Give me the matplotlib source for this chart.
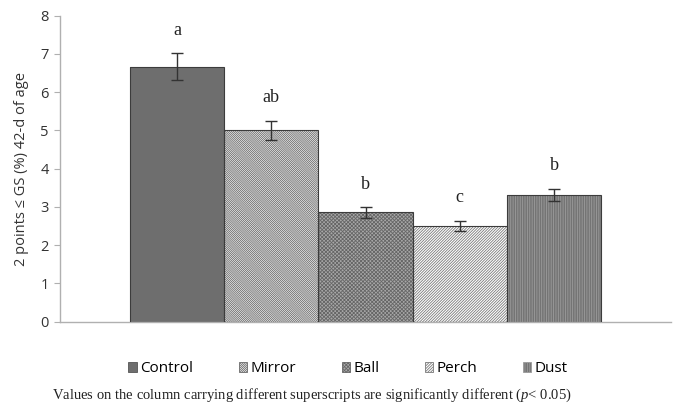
import matplotlib
matplotlib.use("Agg")
import matplotlib.pyplot as plt
from matplotlib.patches import Patch

categories = ["Control", "Mirror", "Ball", "Perch", "Dust"]
values = [6.67, 5.01, 2.86, 2.50, 3.32]
errors = [0.35, 0.25, 0.14, 0.14, 0.16]
letters = ["a", "ab", "b", "c", "b"]
yticks = [0, 1, 2, 3, 4, 5, 6, 7, 8]

plt.rcParams['hatch.linewidth'] = 0.6
plt.rcParams['mathtext.fontset'] = 'custom'
plt.rcParams['mathtext.it'] = 'Liberation Serif:italic'
plt.rcParams['mathtext.rm'] = 'Liberation Serif'
W, H = 673, 403
fig = plt.figure(figsize=(W / 100, H / 100), dpi=100)
ax = fig.add_axes([60 / W, (H - 321.7) / H, 611 / W, (321.7 - 15.7) / H])

faces = ["#6e6e6e", "#ffffff", "#a8a8a8", "#ffffff", "#747474"]
hatches = [None, "\\" * 16, "x" * 9, "/" * 12, "|" * 7]
hcolors = ["#555555", "#6a6a6a", "#666666", "#7a7a7a", "#9c9c9c"]

x = list(range(len(categories)))
handles = []
for i in x:
    ax.bar(i, values[i], width=1.0, color=faces[i], hatch=hatches[i],
           edgecolor=hcolors[i], linewidth=0.0, zorder=2)
    ax.bar(i, values[i], width=1.0, fill=False, edgecolor="#3c3c3c", linewidth=0.8, zorder=3)
    ax.errorbar(i, values[i], yerr=errors[i], fmt="none", ecolor="#333333",
                elinewidth=1.0, capsize=4, capthick=1.0, zorder=4)
    ax.text(i, values[i] + errors[i] + 0.48, letters[i], ha="center", va="baseline",
            fontsize=13, family="Liberation Serif", color="#222222")
    handles.append(Patch(facecolor=faces[i], hatch=hatches[i], edgecolor=hcolors[i],
                         linewidth=0.6, label=categories[i]))

ax.set_xlim(-0.5 - 0.74, 4.5 + 0.74)
ax.set_ylim(0, 8)
ax.set_yticks(yticks)
ax.set_xticks([])
for s in ["top", "right"]:
    ax.spines[s].set_visible(False)
for s in ["left", "bottom"]:
    ax.spines[s].set_color("#b0b0b0")
    ax.spines[s].set_linewidth(1.0)
ax.tick_params(axis="y", length=4, color="#b0b0b0", labelsize=10.5, labelcolor="#333333", pad=4)
for lab in ax.get_yticklabels():
    lab.set_family("Open Sans")
ax.set_ylabel("2 points \u2264 GS (%) 42-d of age", fontsize=10.5, family="Open Sans",
              color="#333333", labelpad=8)

fig.legend(handles=handles, loc="center", bbox_to_anchor=(348 / W, 1 - 369 / H), ncol=5,
           frameon=False, handlelength=0.55, handleheight=0.55, handletextpad=0.2,
           columnspacing=3.0, borderpad=0.0, prop={"family": "Open Sans", "size": 11})
fig.text(312 / W, 1 - 398.5 / H,
         "Values on the column carrying different superscripts are significantly different ($\\mathit{p}$< 0.05)",
         ha="center", va="baseline", fontsize=10.5, family="Liberation Serif", color="#222222")

fig.savefig("out.png", dpi=100)
